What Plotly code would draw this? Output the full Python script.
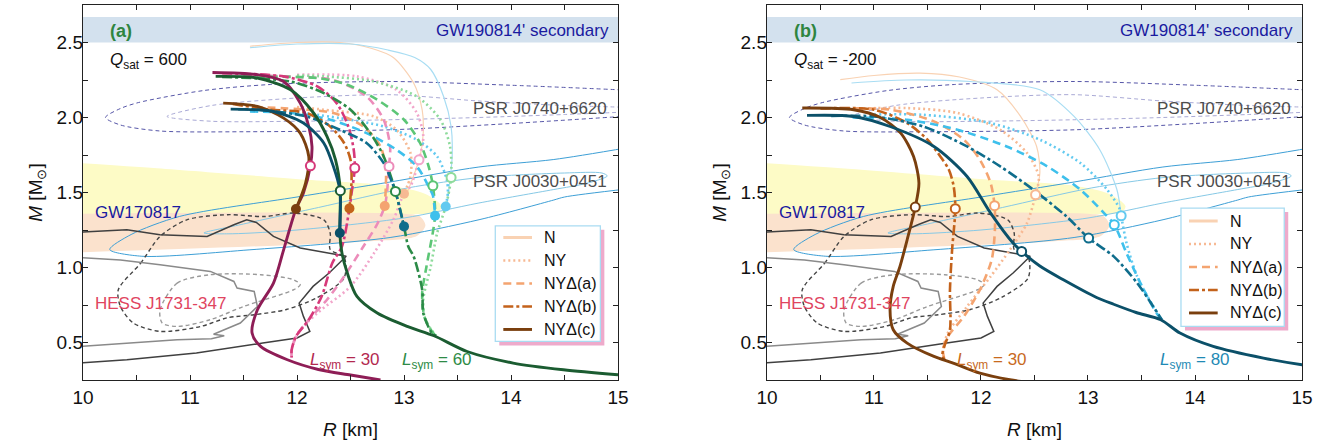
import plotly.graph_objects as go

# ------------------------------------------------------------------
# Observational constraints (shared by both panels), R [km], M [Msun]
# ------------------------------------------------------------------
gw190814_band = [2.50, 2.67]

gw170817_y_R = [9.9, 10.69, 12.09, 12.87, 13.2, 13.35, 13.32, 13.1, 9.9]
gw170817_y_M = [1.70, 1.662, 1.585, 1.545, 1.49, 1.41, 1.37, 1.355, 1.355]
gw170817_o_R = [9.9, 13.0, 13.15, 13.2, 13.12, 12.65, 9.9]
gw170817_o_M = [1.358, 1.358, 1.34, 1.28, 1.21, 1.174, 1.10]

j0740_out_R = [15.1, 14.0, 12.87, 11.75, 11.13, 10.52, 10.35, 10.21, 10.35, 10.72, 11.5, 12.87, 14.0, 15.1]
j0740_out_M = [2.182, 2.215, 2.24, 2.22, 2.18, 2.10, 2.06, 2.0, 1.95, 1.91, 1.905, 1.918, 1.96, 2.01]
j0740_in_R = [15.1, 14.5, 13.7, 12.87, 12.0, 11.2, 10.785, 11.2, 12.0, 12.87, 13.7, 14.5, 15.1]
j0740_in_M = [2.068, 2.08, 2.11, 2.152, 2.13, 2.08, 2.007, 1.975, 1.975, 1.985, 2.0, 2.02, 2.037]

j0030_out_R = [15.1, 14.4, 13.7, 12.87, 12.0, 10.9, 10.45, 10.25, 10.55, 11.56, 12.87, 13.71, 14.4, 14.5, 15.1]
j0030_out_M = [1.80, 1.72, 1.67, 1.57, 1.47, 1.34, 1.22, 1.12, 1.075, 1.118, 1.20, 1.32, 1.45, 1.47, 1.525]
j0030_in_R = [11.13, 11.5, 12.2, 13.03, 13.71, 14.5, 14.85, 14.9, 14.7, 14.4, 13.7, 13.0, 12.0, 11.4, 11.13]
j0030_in_M = [1.23, 1.29, 1.40, 1.53, 1.60, 1.63, 1.63, 1.61, 1.56, 1.52, 1.43, 1.33, 1.25, 1.225, 1.23]

hess_dk_R = [9.9, 10.41, 10.72, 11.16, 11.41, 11.53, 11.62, 11.78, 12.03, 12.28, 12.46, 12.30, 12.15, 12.02, 12.06, 12.12, 12.0, 11.68, 11.06, 10.41, 9.9]
hess_dk_M = [1.233, 1.252, 1.218, 1.207, 1.285, 1.318, 1.30, 1.207, 1.13, 1.096, 1.075, 0.963, 0.874, 0.763, 0.674, 0.574, 0.53, 0.496, 0.43, 0.385, 0.36]
hess_gy_R = [9.9, 10.35, 10.72, 11.19, 11.41, 11.44, 11.6, 11.63, 11.47, 11.28, 11.22, 11.32, 11.2, 10.88, 10.41, 9.9]
hess_gy_M = [1.07, 1.05, 1.018, 0.974, 0.907, 0.863, 0.84, 0.74, 0.63, 0.574, 0.555, 0.545, 0.525, 0.518, 0.496, 0.47]
hess_dkd_R = [10.33, 10.54, 10.72, 10.97, 11.35, 11.7, 11.97, 12.25, 12.31, 12.31, 12.44, 12.44, 12.19, 11.9, 11.6, 11.35, 11.1, 10.72, 10.47, 10.35, 10.33]
hess_dkd_M = [0.852, 1.03, 1.207, 1.318, 1.352, 1.34, 1.363, 1.318, 1.23, 1.12, 1.07, 0.93, 0.80, 0.72, 0.685, 0.665, 0.607, 0.574, 0.63, 0.74, 0.852]
hess_gyd_R = [10.72, 10.88, 11.19, 11.66, 11.97, 12.03, 11.97, 11.5, 11.19, 10.88, 10.74, 10.72]
hess_gyd_M = [0.718, 0.896, 0.952, 0.952, 0.918, 0.885, 0.852, 0.74, 0.652, 0.607, 0.63, 0.718]

# ------------------------------------------------------------------
# Panel (a): Qsat = 600
# ------------------------------------------------------------------
# Lsym = 30 (pink family)
a_pink_c_R = [11.21, 11.63, 11.875, 12.03, 12.11, 12.14, 12.125, 12.06, 11.99, 11.875, 11.78, 11.63, 11.58, 11.66, 11.91, 12.2, 12.5, 12.78]
a_pink_c_M = [2.30, 2.285, 2.24, 2.096, 1.94, 1.807, 1.678, 1.496, 1.39, 1.118, 0.896, 0.718, 0.563, 0.474, 0.385, 0.32, 0.283, 0.25]
a_pink_b_R = [11.3, 11.875, 12.19, 12.37, 12.48, 12.53, 12.54, 12.51, 12.49, 12.42, 12.33, 12.23, 12.11, 11.99, 11.95, 11.95]
a_pink_b_M = [2.295, 2.274, 2.207, 2.096, 1.94, 1.785, 1.663, 1.496, 1.394, 1.14, 1.03, 0.807, 0.652, 0.54, 0.45, 0.40]
a_pink_a_R = [11.5, 12.0, 12.34, 12.65, 12.81, 12.87, 12.86, 12.84, 12.82, 12.75, 12.62, 12.44, 12.28, 12.11, 11.99, 11.95, 11.95]
a_pink_a_M = [2.285, 2.27, 2.25, 2.14, 1.985, 1.807, 1.674, 1.496, 1.41, 1.29, 1.14, 0.94, 0.785, 0.652, 0.54, 0.45, 0.40]
a_pink_ny_R = [12.0, 12.56, 12.93, 13.12, 13.18, 13.14, 13.06, 13.0, 12.9, 12.72, 12.50, 12.19, 12.01, 11.95, 11.95]
a_pink_ny_M = [2.285, 2.274, 2.185, 2.03, 1.874, 1.718, 1.54, 1.492, 1.318, 1.096, 0.874, 0.696, 0.563, 0.45, 0.40]
# orange family
a_or_c_R = [11.31, 11.63, 11.875, 12.03, 12.11, 12.08, 11.99]
a_or_c_M = [2.096, 2.074, 1.996, 1.896, 1.74, 1.563, 1.39]
a_or_b_R = [11.4, 11.75, 12.09, 12.31, 12.44, 12.50, 12.51, 12.49]
a_or_b_M = [2.09, 2.052, 2.03, 1.94, 1.83, 1.718, 1.585, 1.394]
a_or_a_R = [11.6, 12.09, 12.34, 12.62, 12.78, 12.83, 12.82]
a_or_a_M = [2.07, 2.052, 2.03, 1.94, 1.807, 1.652, 1.41]
a_or_ny_R = [12.0, 12.25, 12.72, 12.93, 13.06, 13.06, 13.0]
a_or_ny_M = [2.07, 2.052, 2.007, 1.918, 1.763, 1.607, 1.492]
a_or_n_R = [11.56, 12.0, 12.4, 12.7, 12.9, 13.09, 13.17, 13.18, 13.15, 13.03]
a_or_n_M = [2.475, 2.50, 2.50, 2.46, 2.40, 2.23, 2.05, 1.90, 1.74, 1.50]
# Lsym = 60 (green family)
a_gr_c_R = [11.24, 11.63, 11.94, 12.155, 12.28, 12.36, 12.405, 12.40, 12.42, 12.47, 12.56, 12.75, 13.03, 13.28, 13.59, 14.02, 14.49, 15.0]
a_gr_c_M = [2.274, 2.263, 2.185, 2.03, 1.874, 1.718, 1.512, 1.23, 1.096, 0.963, 0.807, 0.696, 0.607, 0.545, 0.44, 0.363, 0.318, 0.285]
a_gr_b_R = [11.3, 11.94, 12.25, 12.50, 12.685, 12.81, 12.92, 13.0, 13.04, 13.09, 13.17, 13.18, 13.26, 13.3]
a_gr_b_M = [2.27, 2.24, 2.163, 2.052, 1.896, 1.74, 1.507, 1.274, 1.14, 1.074, 0.852, 0.696, 0.563, 0.545]
a_gr_a_R = [11.5, 12.19, 12.47, 12.75, 13.0, 13.15, 13.23, 13.27, 13.29, 13.21, 13.17, 13.19, 13.26, 13.3]
a_gr_a_M = [2.27, 2.263, 2.218, 2.118, 1.985, 1.83, 1.674, 1.545, 1.345, 1.007, 0.83, 0.674, 0.574, 0.545]
a_gr_ny_R = [12.0, 12.25, 12.72, 13.12, 13.34, 13.43, 13.44, 13.39, 13.31, 13.25, 13.18, 13.2, 13.3]
a_gr_ny_M = [2.28, 2.274, 2.24, 2.14, 1.985, 1.807, 1.60, 1.407, 1.23, 1.007, 0.785, 0.65, 0.545]
# teal family
a_te_c_R = [11.38, 11.78, 12.06, 12.25, 12.34, 12.40, 12.405, 12.40]
a_te_c_M = [2.056, 2.04, 1.963, 1.83, 1.674, 1.518, 1.40, 1.23]
a_te_b_R = [11.45, 11.63, 12.09, 12.40, 12.65, 12.81, 12.89, 12.92, 13.0]
a_te_b_M = [2.055, 2.052, 2.007, 1.918, 1.83, 1.696, 1.563, 1.507, 1.274]
a_te_a_R = [11.56, 11.94, 12.31, 12.65, 12.93, 13.12, 13.23, 13.27, 13.29]
a_te_a_M = [2.04, 2.03, 1.985, 1.896, 1.785, 1.674, 1.54, 1.48, 1.345]
a_te_ny_R = [12.0, 12.40, 12.81, 13.12, 13.31, 13.40, 13.41, 13.39]
a_te_ny_M = [2.035, 1.996, 1.94, 1.852, 1.74, 1.585, 1.5, 1.407]
a_te_n_R = [11.56, 12.0, 12.5, 12.85, 13.1, 13.25, 13.37, 13.44, 13.45, 13.40]
a_te_n_M = [2.465, 2.49, 2.49, 2.45, 2.40, 2.32, 2.14, 1.94, 1.74, 1.41]

# markers panel (a): hollow (R, M) and filled (R, M)
a_hollow_R = [12.125, 12.54, 12.86, 13.14, 12.405, 12.92, 13.27, 13.44]
a_hollow_M = [1.678, 1.663, 1.674, 1.718, 1.512, 1.507, 1.545, 1.60]
a_filled_R = [11.99, 12.49, 12.82, 13.0, 12.40, 13.0, 13.29, 13.39]
a_filled_M = [1.39, 1.394, 1.41, 1.492, 1.23, 1.274, 1.345, 1.407]

# ------------------------------------------------------------------
# Panel (b): Qsat = -200
# ------------------------------------------------------------------
b_or_c_R = [10.33, 10.81, 11.06, 11.25, 11.37, 11.42, 11.386, 11.31, 11.24, 11.18, 11.15, 11.18, 11.31, 11.56, 11.74, 11.99, 12.27, 12.6]
b_or_c_M = [2.063, 2.052, 2.0, 1.896, 1.74, 1.563, 1.403, 1.185, 1.0, 0.874, 0.718, 0.585, 0.496, 0.407, 0.363, 0.296, 0.252, 0.22]
b_or_b_R = [10.5, 11.0, 11.31, 11.50, 11.62, 11.70, 11.745, 11.76, 11.73, 11.71, 11.71, 11.66, 11.64, 11.66]
b_or_b_M = [2.06, 2.052, 1.963, 1.852, 1.74, 1.652, 1.54, 1.392, 1.118, 0.852, 0.585, 0.48, 0.42, 0.38]
b_or_a_R = [10.7, 11.15, 11.56, 11.84, 11.99, 12.09, 12.127, 12.13, 12.10, 11.99, 11.84, 11.69, 11.645, 11.66]
b_or_a_M = [2.06, 2.052, 1.974, 1.852, 1.718, 1.563, 1.412, 1.252, 1.052, 0.852, 0.674, 0.54, 0.45, 0.38]
b_or_ny_R = [10.9, 11.31, 11.78, 12.18, 12.43, 12.54, 12.51, 12.43, 12.27, 12.09, 11.87, 11.69, 11.645, 11.66]
b_or_ny_M = [2.06, 2.063, 2.03, 1.918, 1.763, 1.607, 1.485, 1.296, 1.118, 0.94, 0.74, 0.563, 0.45, 0.38]
b_or_n_R = [10.685, 11.0, 11.43, 11.8, 12.15, 12.37, 12.52, 12.55, 12.51]
b_or_n_M = [2.252, 2.28, 2.296, 2.27, 2.185, 2.007, 1.807, 1.63, 1.485]
b_te_c_R = [10.374, 10.81, 11.15, 11.56, 11.87, 12.09, 12.30, 12.38, 12.55, 12.77, 13.08, 13.24, 13.45, 13.68, 13.86, 14.17, 14.64, 15.0, 15.1]
b_te_c_M = [2.014, 2.007, 1.94, 1.807, 1.607, 1.363, 1.163, 1.107, 1.01, 0.918, 0.80, 0.755, 0.70, 0.652, 0.563, 0.474, 0.396, 0.352, 0.345]
b_te_b_R = [10.6, 11.0, 11.46, 11.87, 12.18, 12.49, 12.80, 13.006, 13.24, 13.46, 13.61, 13.69]
b_te_b_M = [2.01, 2.007, 1.94, 1.807, 1.674, 1.518, 1.34, 1.196, 1.074, 0.896, 0.74, 0.652]
b_te_a_R = [10.8, 11.31, 11.78, 12.24, 12.62, 12.93, 13.15, 13.246, 13.36, 13.49, 13.64, 13.69]
b_te_a_M = [2.0, 1.985, 1.918, 1.807, 1.674, 1.518, 1.363, 1.285, 1.096, 0.896, 0.696, 0.652]
b_te_ny_R = [11.0, 11.46, 12.09, 12.55, 12.93, 13.18, 13.30, 13.31, 13.36, 13.46, 13.61, 13.69]
b_te_ny_M = [2.02, 2.018, 1.963, 1.852, 1.696, 1.518, 1.385, 1.345, 1.163, 0.94, 0.74, 0.652]
b_te_n_R = [10.79, 11.3, 11.9, 12.55, 12.87, 13.11, 13.27, 13.31]
b_te_n_M = [2.23, 2.25, 2.24, 2.185, 2.007, 1.785, 1.52, 1.345]

b_hollow_R = [11.386, 11.76, 12.127, 12.51, 12.38, 13.006, 13.246, 13.31]
b_hollow_M = [1.403, 1.392, 1.412, 1.485, 1.107, 1.196, 1.285, 1.345]

legend_labels = ["N", "NY", "NYΔ(a)", "NYΔ(b)", "NYΔ(c)"]
x_ticks = [10, 11, 12, 13, 14, 15]
y_ticks = [0.5, 1.0, 1.5, 2.0, 2.5]

# ------------------------------------------------------------------
# styles
# ------------------------------------------------------------------
FONT = "Liberation Sans, Arial, sans-serif"
PINK = {"c": "#8e1d56", "b": "#d6397a", "a": "#ec8cba", "ny": "#f2a6cb"}
GREEN = {"c": "#1b5c31", "b": "#2b8a47", "a": "#5cc676", "ny": "#8edb9c"}
ORANGE = {"c": "#7a3f0e", "b": "#c3621b", "a": "#f4a470", "ny": "#f7b993", "n": "#f9d2b3"}
TEAL = {"c": "#0b5069", "b": "#0f6d8c", "a": "#3ec0ec", "ny": "#63caf0", "n": "#a8ddf3"}
STY = {
    "n": dict(width=1.2, dash="solid"),
    "ny": dict(width=2.6, dash="2px,3px"),
    "a": dict(width=2.6, dash="8px,5px"),
    "b": dict(width=2.6, dash="10px,3px,3px,3px"),
    "c": dict(width=2.9, dash="solid"),
}

fig = go.Figure()


def line(R, M, color, width, dash, xa, ya, shape="spline", fill=None, fillcolor=None):
    fig.add_trace(go.Scatter(
        x=R, y=M, mode="lines", xaxis=xa, yaxis=ya, showlegend=False, hoverinfo="skip",
        line=dict(color=color, width=width, dash=dash, shape=shape, smoothing=0.8),
        fill=fill, fillcolor=fillcolor))


def curve(R, M, fam, kind, xa, ya):
    s = STY[kind]
    line(R, M, fam[kind], s["width"], s["dash"], xa, ya)


for xa, ya in (("x", "y"), ("x2", "y2")):
    line(gw170817_y_R, gw170817_y_M, "rgba(0,0,0,0)", 0, "solid", xa, ya, fill="toself", fillcolor="#fdfbc6")
    line(gw170817_o_R, gw170817_o_M, "rgba(0,0,0,0)", 0, "solid", xa, ya, fill="toself", fillcolor="#fbe2cd")
    line(j0740_out_R, j0740_out_M, "#5656a8", 1.0, "4px,3px", xa, ya)
    line(j0740_in_R, j0740_in_M, "#aaaad6", 1.0, "4px,3px", xa, ya)
    line(j0030_out_R, j0030_out_M, "#3d9fd6", 1.0, "solid", xa, ya)
    line(j0030_in_R, j0030_in_M, "#86c9e6", 1.0, "solid", xa, ya)
    line(hess_gyd_R, hess_gyd_M, "#9a9a9a", 1.4, "4px,3px", xa, ya)
    line(hess_dkd_R, hess_dkd_M, "#444444", 1.4, "4px,3px", xa, ya)
    line(hess_gy_R, hess_gy_M, "#8a8a8a", 1.5, "solid", xa, ya, shape="linear")
    line(hess_dk_R, hess_dk_M, "#404040", 1.5, "solid", xa, ya, shape="linear")

# panel (a) curves
curve(a_or_n_R, a_or_n_M, ORANGE, "n", "x", "y")
curve(a_te_n_R, a_te_n_M, TEAL, "n", "x", "y")
curve(a_pink_ny_R, a_pink_ny_M, PINK, "ny", "x", "y")
curve(a_gr_ny_R, a_gr_ny_M, GREEN, "ny", "x", "y")
curve(a_or_ny_R, a_or_ny_M, ORANGE, "ny", "x", "y")
curve(a_te_ny_R, a_te_ny_M, TEAL, "ny", "x", "y")
curve(a_pink_a_R, a_pink_a_M, PINK, "a", "x", "y")
curve(a_gr_a_R, a_gr_a_M, GREEN, "a", "x", "y")
curve(a_or_a_R, a_or_a_M, ORANGE, "a", "x", "y")
curve(a_te_a_R, a_te_a_M, TEAL, "a", "x", "y")
curve(a_pink_b_R, a_pink_b_M, PINK, "b", "x", "y")
curve(a_gr_b_R, a_gr_b_M, GREEN, "b", "x", "y")
curve(a_or_b_R, a_or_b_M, ORANGE, "b", "x", "y")
curve(a_te_b_R, a_te_b_M, TEAL, "b", "x", "y")
curve(a_pink_c_R, a_pink_c_M, PINK, "c", "x", "y")
curve(a_gr_c_R, a_gr_c_M, GREEN, "c", "x", "y")
curve(a_or_c_R, a_or_c_M, ORANGE, "c", "x", "y")
curve(a_te_c_R, a_te_c_M, TEAL, "c", "x", "y")

a_hollow_col = [PINK["b"], PINK["b"], PINK["a"], PINK["ny"], GREEN["c"], GREEN["b"], GREEN["a"], GREEN["ny"]]
a_filled_col = [ORANGE["c"], ORANGE["b"], ORANGE["a"], ORANGE["ny"], TEAL["c"], TEAL["b"], TEAL["a"], TEAL["ny"]]
fig.add_trace(go.Scatter(x=a_filled_R, y=a_filled_M, mode="markers", xaxis="x", yaxis="y", showlegend=False,
                         marker=dict(size=10, color=a_filled_col, line=dict(width=0))))
fig.add_trace(go.Scatter(x=a_hollow_R, y=a_hollow_M, mode="markers", xaxis="x", yaxis="y", showlegend=False,
                         marker=dict(size=9, color="white", line=dict(width=2, color=a_hollow_col))))

# panel (b) curves
curve(b_or_n_R, b_or_n_M, ORANGE, "n", "x2", "y2")
curve(b_te_n_R, b_te_n_M, TEAL, "n", "x2", "y2")
curve(b_or_ny_R, b_or_ny_M, ORANGE, "ny", "x2", "y2")
curve(b_te_ny_R, b_te_ny_M, TEAL, "ny", "x2", "y2")
curve(b_or_a_R, b_or_a_M, ORANGE, "a", "x2", "y2")
curve(b_te_a_R, b_te_a_M, TEAL, "a", "x2", "y2")
curve(b_or_b_R, b_or_b_M, ORANGE, "b", "x2", "y2")
curve(b_te_b_R, b_te_b_M, TEAL, "b", "x2", "y2")
curve(b_or_c_R, b_or_c_M, ORANGE, "c", "x2", "y2")
curve(b_te_c_R, b_te_c_M, TEAL, "c", "x2", "y2")
b_hollow_col = [ORANGE["c"], ORANGE["b"], ORANGE["a"], ORANGE["ny"], TEAL["c"], TEAL["b"], TEAL["a"], TEAL["ny"]]
fig.add_trace(go.Scatter(x=b_hollow_R, y=b_hollow_M, mode="markers", xaxis="x2", yaxis="y2", showlegend=False,
                         marker=dict(size=9, color="white", line=dict(width=2, color=b_hollow_col))))

# ------------------------------------------------------------------
# shapes: GW190814 band, legend boxes
# ------------------------------------------------------------------
shapes = []
for xr, yr in (("x", "y"), ("x2", "y2")):
    shapes.append(dict(type="rect", xref=xr, yref=yr, x0=9.9, x1=15.1, y0=gw190814_band[0], y1=gw190814_band[1],
                       fillcolor="#d3e1ee", line=dict(width=0), layer="below"))

leg_styles = [("n", ORANGE["n"], 3.0, "solid"), ("ny", ORANGE["ny"], 2.6, "2px,3px"),
              ("a", ORANGE["a"], 2.6, "8px,5px"), ("b", ORANGE["b"], 2.6, "10px,3px,3px,3px"),
              ("c", ORANGE["c"], 2.9, "solid")]
legend_boxes = [
    dict(xr="x", yr="y", bx=(13.853, 14.835), by=(0.507, 1.278), ys=[1.20, 1.047, 0.893, 0.74, 0.587]),
    dict(xr="x2", yr="y2", bx=(13.869, 14.834), by=(0.607, 1.396), ys=[1.31, 1.157, 1.003, 0.85, 0.697]),
]
annotations = []
for lb in legend_boxes:
    dx, dy = 4 / 107, 4 / 150
    shapes.append(dict(type="rect", xref=lb["xr"], yref=lb["yr"], x0=lb["bx"][0] + dx, x1=lb["bx"][1] + dx,
                       y0=lb["by"][0] - dy, y1=lb["by"][1] - dy, fillcolor="#eeaacb", line=dict(width=0)))
    shapes.append(dict(type="rect", xref=lb["xr"], yref=lb["yr"], x0=lb["bx"][0], x1=lb["bx"][1],
                       y0=lb["by"][0], y1=lb["by"][1], fillcolor="white", line=dict(width=1.3, color="#a9dcf2")))
    for (k, col, w, d), yy, lab in zip(leg_styles, lb["ys"], legend_labels):
        shapes.append(dict(type="line", xref=lb["xr"], yref=lb["yr"], x0=lb["bx"][0] + 0.075, x1=lb["bx"][0] + 0.343,
                           y0=yy, y1=yy, line=dict(color=col, width=w, dash=d)))
        annotations.append(dict(xref=lb["xr"], yref=lb["yr"], x=lb["bx"][0] + 0.44, y=yy, text=lab, showarrow=False,
                                xanchor="left", yanchor="middle", font=dict(size=16, color="#111", family=FONT)))

# ------------------------------------------------------------------
# text labels
# ------------------------------------------------------------------
def txt(xr, yr, x, y, text, color, size=17, xanchor="left", bold=False):
    annotations.append(dict(xref=xr, yref=yr, x=x, y=y, text=("<b>%s</b>" % text) if bold else text,
                            showarrow=False, xanchor=xanchor, yanchor="middle",
                            font=dict(size=size, color=color, family=FONT)))


for xr, yr, tag, q in (("x", "y", "(a)", "600"), ("x2", "y2", "(b)", "-200")):
    txt(xr, yr, 10.23, 2.575, tag, "#2e8540", size=18, bold=True)
    txt(xr, yr, 10.23, 2.38, "<i>Q</i><sub>sat</sub> = " + q, "#111")
    txt(xr, yr, 14.93, 2.578, "GW190814' secondary", "#1a1aa0", xanchor="right")
    txt(xr, yr, 14.915, 2.063, "PSR J0740+6620", "#4d4d4d", xanchor="right")
    txt(xr, yr, 14.915, 1.574, "PSR J0030+0451", "#4d4d4d", xanchor="right")
    txt(xr, yr, 10.09, 1.365, "GW170817", "#1a1aa0")
    txt(xr, yr, 10.09, 0.76, "HESS J1731-347", "#e0455f")

txt("x", "y", 12.45, 0.375, "<i>L</i><sub>sym</sub> = 30", "#b3294f", xanchor="center")
txt("x", "y", 13.31, 0.375, "<i>L</i><sub>sym</sub> = 60", "#2e8b46", xanchor="center")
txt("x2", "y2", 12.105, 0.375, "<i>L</i><sub>sym</sub> = 30", "#c86a1e", xanchor="center")
txt("x2", "y2", 14.0, 0.375, "<i>L</i><sub>sym</sub> = 80", "#1f8ab5", xanchor="center")

# ------------------------------------------------------------------
# axes
# ------------------------------------------------------------------
ax_common = dict(showgrid=False, zeroline=False, showline=True, linecolor="#222", linewidth=1.4,
                 mirror="allticks", ticks="inside", ticklen=5, tickwidth=1.2, tickcolor="#222",
                 tickfont=dict(size=19, color="#111", family=FONT))
xax = dict(ax_common, range=[10, 15], tickvals=x_ticks, ticktext=[str(v) for v in x_ticks],
           minor=dict(dtick=0.5, ticks="inside", ticklen=5, tickwidth=1.2, tickcolor="#222"),
           title=dict(text="<i>R</i> [km]", font=dict(size=19, color="#111", family=FONT), standoff=15),
           ticklabelstandoff=0)
yax = dict(ax_common, range=[0.25, 2.75], tickvals=y_ticks, ticktext=["%.1f" % v for v in y_ticks],
           minor=dict(dtick=0.25, ticks="inside", ticklen=5, tickwidth=1.2, tickcolor="#222"),
           title=dict(text="<i>M</i> [M<sub>⊙</sub>]", font=dict(size=19, color="#111", family=FONT), standoff=8),
           ticklabelstandoff=-5)

fig.update_layout(
    width=1332, height=445, margin=dict(l=83, r=30, t=5, b=65),
    paper_bgcolor="white", plot_bgcolor="white",
    xaxis=dict(xax, domain=[0, 0.4389], anchor="y"),
    yaxis=dict(yax, domain=[0, 1], anchor="x"),
    xaxis2=dict(xax, domain=[0.5611, 1], anchor="y2"),
    yaxis2=dict(yax, domain=[0, 1], anchor="x2"),
    shapes=shapes, annotations=annotations, showlegend=False,
    font=dict(family=FONT),
)

fig.write_html("out.html")
